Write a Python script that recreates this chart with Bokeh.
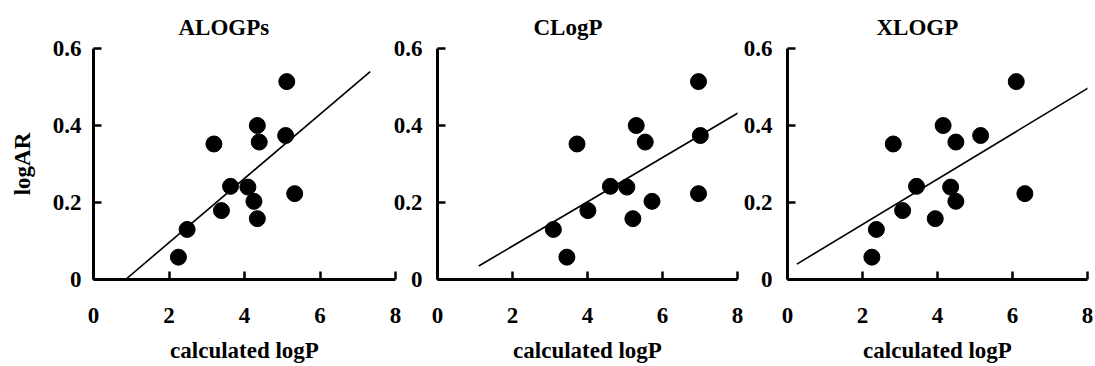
from bokeh.plotting import figure
from bokeh.layouts import row
from bokeh.models import Range1d, FixedTicker, CustomJSTickFormatter, Title
from bokeh.embed import file_html
from bokeh.resources import INLINE

# ---- data ----
logAR = [0.058, 0.130, 0.352, 0.179, 0.242, 0.240, 0.203, 0.400, 0.357, 0.158, 0.514, 0.374, 0.223]
alogps = [2.25, 2.48, 3.19, 3.39, 3.63, 4.09, 4.25, 4.34, 4.39, 4.34, 5.12, 5.09, 5.33]
clogp = [3.45, 3.09, 3.72, 4.01, 4.61, 5.05, 5.72, 5.30, 5.54, 5.21, 6.96, 7.01, 6.96]
xlogp = [2.25, 2.37, 2.82, 3.07, 3.44, 4.35, 4.49, 4.15, 4.49, 3.94, 6.10, 5.15, 6.33]

alogps_fit_x = [0.85, 7.33]
alogps_fit_y = [0.0, 0.540]
clogp_fit_x = [1.10, 8.04]
clogp_fit_y = [0.035, 0.434]
xlogp_fit_x = [0.25, 8.03]
xlogp_fit_y = [0.040, 0.498]

titles = ["ALOGPs", "CLogP", "XLOGP"]
x_ticks = [0, 2, 4, 6, 8]
y_ticks = [0, 0.2, 0.4, 0.6]
x_label = "calculated logP"
y_label = "logAR"

FONT = "Liberation Serif"
FS = "23px"
H = 366
FRAME_H = 231


def panel(xs, fit_x, fit_y, title, frame_w, left, right, title_offset, ylab=None):
    p = figure(width=left + frame_w + right, height=H, output_backend="svg", toolbar_location=None,
               x_range=Range1d(0, 8), y_range=Range1d(0, 0.6),
               min_border_left=left, min_border_right=right,
               min_border_top=48, min_border_bottom=H - 48 - FRAME_H)
    p.background_fill_alpha = 0
    p.border_fill_alpha = 0
    p.outline_line_color = None
    p.grid.visible = False

    t = Title(text=title, align="left", offset=title_offset, text_font=FONT,
              text_font_size=FS, text_font_style="bold", text_color="black", standoff=18)
    p.add_layout(t, "above")

    p.line(fit_x, fit_y, line_color="black", line_width=1.6)
    p.scatter(xs, logAR, size=16, fill_color="black", line_color="black")

    for ax, ticks in ((p.xaxis[0], x_ticks), (p.yaxis[0], y_ticks)):
        ax.ticker = FixedTicker(ticks=ticks)
        ax.axis_line_width = 3
        ax.axis_line_color = "black"
        ax.major_tick_line_width = 2.5
        ax.major_tick_line_color = "black"
        ax.major_tick_in = 8
        ax.major_tick_out = 0
        ax.minor_tick_line_color = None
        ax.major_label_text_font = FONT
        ax.major_label_text_font_size = FS
        ax.major_label_text_font_style = "bold"
        ax.major_label_text_color = "black"
        ax.axis_label_text_font = FONT
        ax.axis_label_text_font_size = FS
        ax.axis_label_text_font_style = "bold"
        ax.axis_label_text_color = "black"

    p.yaxis[0].formatter = CustomJSTickFormatter(code="return tick == 0 ? '0' : tick.toFixed(1);")
    p.xaxis[0].major_label_standoff = 28
    p.xaxis[0].axis_label = x_label
    p.xaxis[0].axis_label_standoff = 12
    p.yaxis[0].major_label_standoff = 12
    if ylab:
        p.yaxis[0].axis_label = ylab
        p.yaxis[0].axis_label_standoff = 15
    return p


p1 = panel(alogps, alogps_fit_x, alogps_fit_y, titles[0], 302, 93, 10, 85, ylab=y_label)
p2 = panel(clogp, clogp_fit_x, clogp_fit_y, titles[1], 300, 50, 10, 96)
p3 = panel(xlogp, xlogp_fit_x, xlogp_fit_y, titles[2], 300, 50, 8, 89)
p2.yaxis[0].major_label_standoff = 15
p3.yaxis[0].major_label_standoff = 15
p2.margin = (0, 0, 0, -18)
p3.margin = (0, 0, 0, -10)

layout = row(p1, p2, p3)
open("out.html", "w").write(file_html(layout, INLINE))
